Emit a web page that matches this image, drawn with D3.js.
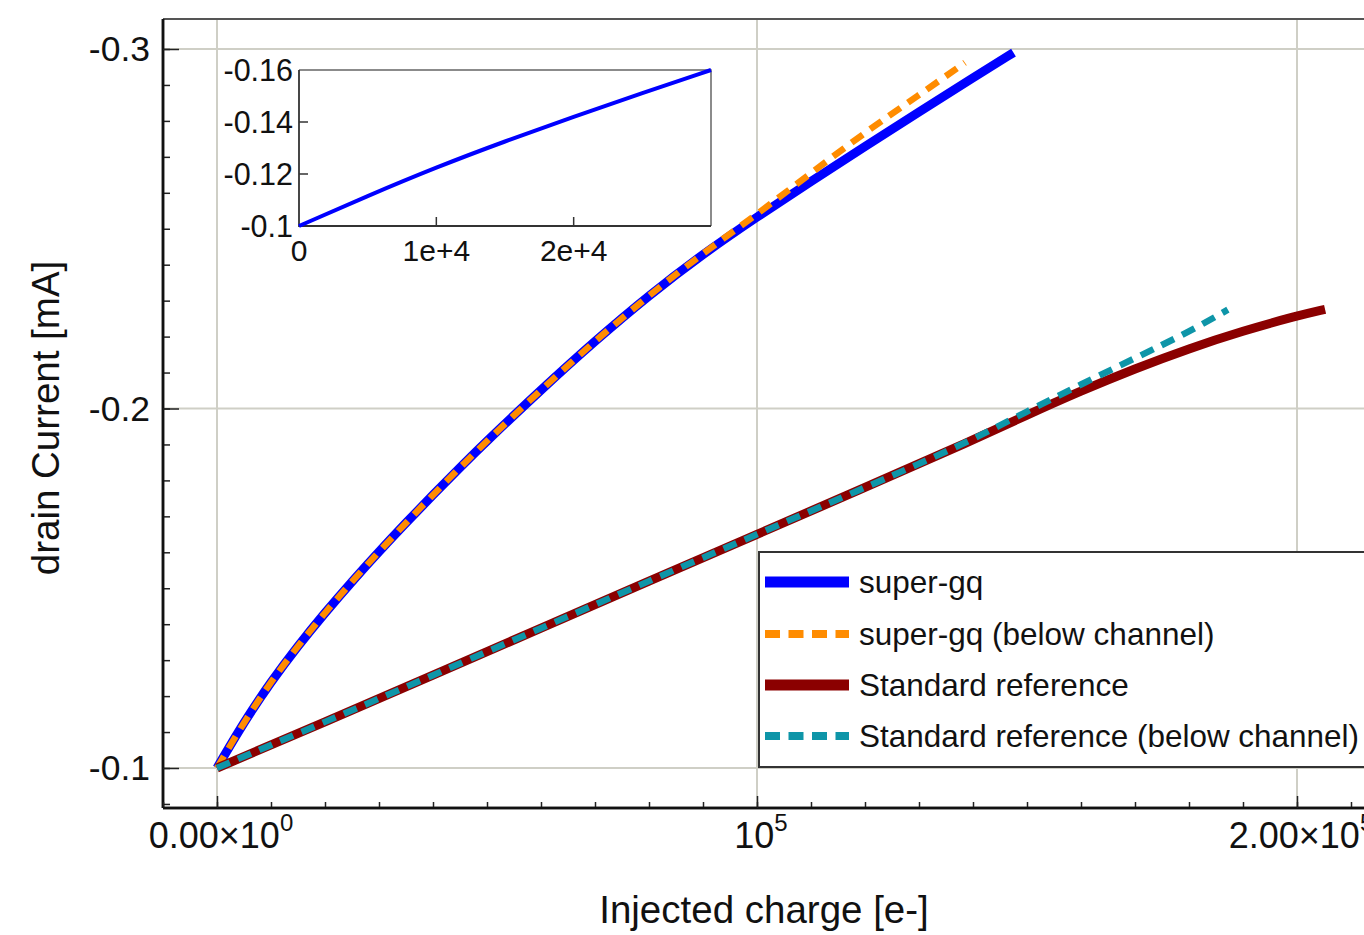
<!DOCTYPE html>
<html>
<head>
<meta charset="utf-8">
<script src="https://cdn.jsdelivr.net/npm/d3@7/dist/d3.min.js"></script>
<style>
  html, body { margin: 0; padding: 0; background: #fff; }
  svg { display: block; }
  text { font-family: "Liberation Sans", Arial, sans-serif; fill: #111; }
</style>
</head>
<body>
<svg id="chart" width="1364" height="935"></svg>
<script>
// ---------------- data ----------------
const superGqX = [0, 5000, 10000, 15000, 20000, 25000, 30000, 35000, 40000, 45000, 50000, 60000, 70000, 80000, 90000, 100000, 110000, 120000, 130000, 140000, 147500];
const superGqY = [-0.1, -0.1128, -0.1240, -0.1340, -0.1432, -0.1519, -0.1602, -0.1682, -0.1760, -0.1836, -0.1910, -0.2052, -0.2188, -0.2315, -0.2430, -0.2533, -0.2632, -0.2729, -0.2825, -0.2920, -0.2990];

const superGqBelowX = [0, 5000, 10000, 15000, 20000, 25000, 30000, 35000, 40000, 45000, 50000, 60000, 70000, 80000, 90000, 100000, 110000, 120000, 130000, 138500];
const superGqBelowY = [-0.1, -0.1128, -0.1240, -0.1340, -0.1432, -0.1519, -0.1602, -0.1682, -0.1760, -0.1836, -0.1910, -0.2052, -0.2188, -0.2315, -0.2432, -0.2540, -0.2655, -0.2768, -0.2872, -0.2962];

const standardX = [0, 20000, 40000, 60000, 80000, 100000, 120000, 140000, 150000, 160000, 170000, 180000, 190000, 200000, 205200];
const standardY = [-0.1, -0.1128, -0.1258, -0.1389, -0.1520, -0.1650, -0.1780, -0.1912, -0.1982, -0.2049, -0.2111, -0.2167, -0.2216, -0.2258, -0.2276];

const standardBelowX = [0, 20000, 40000, 60000, 80000, 100000, 120000, 130000, 140000, 150000, 160000, 170000, 180000, 187200];
const standardBelowY = [-0.1, -0.1128, -0.1258, -0.1389, -0.1520, -0.1650, -0.1780, -0.1846, -0.1914, -0.1992, -0.2067, -0.2140, -0.2213, -0.2275];

const insetX = [0, 5000, 10000, 15000, 20000, 25000, 30000];
const insetY = [-0.1, -0.1116, -0.1226, -0.1326, -0.1420, -0.1511, -0.16];

const seriesNames = ["super-gq", "super-gq (below channel)", "Standard reference", "Standard reference (below channel)"];
const seriesColors = ["#0000ff", "#ff8c00", "#8b0000", "#0e95a8"];

const yMajorTicks = [-0.1, -0.2, -0.3];
const yTickLabels = ["-0.1", "-0.2", "-0.3"];
const xMajorTicks = [0, 100000, 200000];
const xTickMantissa = ["0.00×10", "10", "2.00×10"];
const xTickExp = ["0", "5", "5"];
const insetXTicks = [0, 10000, 20000];
const insetXLabels = ["0", "1e+4", "2e+4"];
const insetYTicks = [-0.1, -0.12, -0.14, -0.16];
const insetYLabels = ["-0.1", "-0.12", "-0.14", "-0.16"];

const xTitle = "Injected charge [e-]";
const yTitle = "drain Current [mA]";

// ---------------- layout ----------------
(function () {
const svg = d3.select("#chart");
const W = 1364;
const pLeft = 163, pTop = 19, pBottom = 808;

const x = d3.scaleLinear().domain([0, 100000]).range([217, 757]);
const y = d3.scaleLinear().domain([-0.1, -0.3]).range([768, 49]);

const gridColor = "#cfcfc6";

// grid
const g = svg.append("g");
g.selectAll(".vgrid").data(xMajorTicks).join("line")
  .attr("x1", d => x(d)).attr("x2", d => x(d))
  .attr("y1", pTop).attr("y2", pBottom)
  .attr("stroke", gridColor).attr("stroke-width", 2);
g.selectAll(".hgrid").data(yMajorTicks).join("line")
  .attr("x1", pLeft).attr("x2", W)
  .attr("y1", d => y(d)).attr("y2", d => y(d))
  .attr("stroke", gridColor).attr("stroke-width", 2);

// frame top
g.append("line").attr("x1", pLeft).attr("x2", W).attr("y1", pTop).attr("y2", pTop)
  .attr("stroke", "#555").attr("stroke-width", 2);

// axes (inward ticks)
const yMinor = d3.range(-0.09, -0.305, -0.01).map(v => +v.toFixed(2));
const xMinor = d3.range(-10000, 230000, 10000);

const yAxisMinor = d3.axisLeft(y).tickValues(yMinor).tickSize(-7).tickSizeOuter(0).tickFormat("");
const yAxisMajor = d3.axisLeft(y).tickValues(yMajorTicks).tickSize(-16).tickSizeOuter(0).tickFormat("");
const ya1 = svg.append("g").attr("transform", `translate(${pLeft},0)`).call(yAxisMinor);
const ya2 = svg.append("g").attr("transform", `translate(${pLeft},0)`).call(yAxisMajor);
[ya1, ya2].forEach(a => {
  a.select(".domain").attr("d", `M0,${pTop}V${pBottom}`).attr("stroke", "#111").attr("stroke-width", 2.5);
  a.selectAll(".tick line").attr("stroke", "#222").attr("stroke-width", 1.5);
});

const xAxisMinor = d3.axisBottom(x).tickValues(xMinor).tickSize(-6).tickSizeOuter(0).tickFormat("");
const xAxisMajor = d3.axisBottom(x).tickValues(xMajorTicks).tickSize(-12).tickSizeOuter(0).tickFormat("");
const xa1 = svg.append("g").attr("transform", `translate(0,${pBottom})`).call(xAxisMinor);
const xa2 = svg.append("g").attr("transform", `translate(0,${pBottom})`).call(xAxisMajor);
[xa1, xa2].forEach(a => {
  a.select(".domain").attr("d", `M${pLeft},0H${W}`).attr("stroke", "#111").attr("stroke-width", 2.5);
  a.selectAll(".tick line").attr("stroke", "#222").attr("stroke-width", 1.5);
});

// y tick labels
svg.selectAll(".ylab").data(yMajorTicks).join("text")
  .attr("x", 150).attr("y", d => y(d) + 12)
  .attr("text-anchor", "end").attr("font-size", 35.5)
  .text((d, i) => yTickLabels[i]);

// x tick labels with superscripts
xMajorTicks.forEach((v, i) => {
  const t = svg.append("text").attr("x", x(v) + 4).attr("y", 848)
    .attr("text-anchor", "middle").attr("font-size", 36);
  t.append("tspan").text(xTickMantissa[i]);
  t.append("tspan").attr("dy", -17).attr("font-size", 24).text(xTickExp[i]);
});

// axis titles
svg.append("text").attr("x", 764).attr("y", 923).attr("text-anchor", "middle")
  .attr("font-size", 38.5).text(xTitle);
svg.append("text").attr("transform", "translate(59,418) rotate(-90)")
  .attr("text-anchor", "middle").attr("font-size", 38.5).text(yTitle);

// ---------------- inset ----------------
const ix = d3.scaleLinear().domain([0, 30000]).range([299, 711]);
const iy = d3.scaleLinear().domain([-0.1, -0.16]).range([226, 70]);
const ins = svg.append("g");
ins.append("rect").attr("x", 299).attr("y", 70).attr("width", 412).attr("height", 156).attr("fill", "#fff");
ins.append("path").attr("d", "M299,70H711V226").attr("fill", "none").attr("stroke", "#666").attr("stroke-width", 1.5);
ins.append("path").attr("d", "M299,70V226H711").attr("fill", "none").attr("stroke", "#333").attr("stroke-width", 1.8);
ins.selectAll(".ixt").data(insetXTicks.slice(1)).join("line")
  .attr("x1", d => ix(d)).attr("x2", d => ix(d)).attr("y1", 226).attr("y2", 217)
  .attr("stroke", "#333").attr("stroke-width", 1.5);
ins.selectAll(".iyt").data(insetYTicks.slice(1, 3)).join("line")
  .attr("x1", 299).attr("x2", 308).attr("y1", d => iy(d)).attr("y2", d => iy(d))
  .attr("stroke", "#333").attr("stroke-width", 1.5);
ins.selectAll(".ixl").data(insetXTicks).join("text")
  .attr("x", d => ix(d)).attr("y", 261).attr("text-anchor", "middle").attr("font-size", 30)
  .text((d, i) => insetXLabels[i]);
ins.selectAll(".iyl").data(insetYTicks).join("text")
  .attr("x", 293).attr("y", d => iy(d) + 11).attr("text-anchor", "end").attr("font-size", 30.5)
  .text((d, i) => insetYLabels[i]);
ins.append("path")
  .datum(d3.zip(insetX, insetY))
  .attr("d", d3.line().x(d => ix(d[0])).y(d => iy(d[1])).curve(d3.curveBasis))
  .attr("fill", "none").attr("stroke", "#0000ff").attr("stroke-width", 4);

// ---------------- main lines ----------------
const line = d3.line().x(d => x(d[0])).y(d => y(d[1])).curve(d3.curveBasis);
const series = [
  {xs: superGqX, ys: superGqY, c: seriesColors[0], w: 9, dash: null},
  {xs: superGqBelowX, ys: superGqBelowY, c: seriesColors[1], w: 6.5, dash: "14,9"},
  {xs: standardX, ys: standardY, c: seriesColors[2], w: 9, dash: null},
  {xs: standardBelowX, ys: standardBelowY, c: seriesColors[3], w: 6.5, dash: "14,9"}
];
series.forEach(s => {
  svg.append("path").datum(d3.zip(s.xs, s.ys))
    .attr("d", line)
    .attr("fill", "none").attr("stroke", s.c).attr("stroke-width", s.w)
    .attr("stroke-dasharray", s.dash)
    .attr("stroke-linecap", "butt").attr("stroke-linejoin", "round");
});

// ---------------- legend ----------------
const lg = svg.append("g");
lg.append("rect").attr("x", 759).attr("y", 552).attr("width", 640).attr("height", 215)
  .attr("fill", "#fff").attr("stroke", "#333").attr("stroke-width", 2);
const rowY = [582, 634, 685, 736];
seriesNames.forEach((n, i) => {
  const s = series[i];
  lg.append("line").attr("x1", 765).attr("x2", 849).attr("y1", rowY[i]).attr("y2", rowY[i])
    .attr("stroke", s.c).attr("stroke-width", s.dash ? 8 : 11)
    .attr("stroke-dasharray", s.dash ? "15,8.5" : null);
  lg.append("text").attr("x", 859).attr("y", rowY[i] + 11).attr("font-size", 31.5)
    .attr("textLength", i === 3 ? 500 : null).attr("lengthAdjust", "spacingAndGlyphs")
    .text(n);
});
})();
</script>
</body>
</html>
